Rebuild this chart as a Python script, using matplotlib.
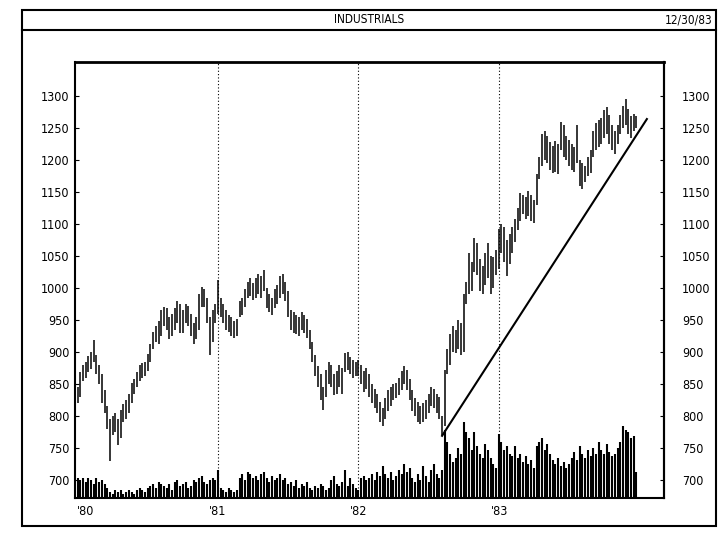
import matplotlib
matplotlib.use('Agg')
import matplotlib.pyplot as plt
import pandas as pd
from matplotlib.patches import Rectangle
from matplotlib.lines import Line2D

# weekly high / low of the Dow industrials
hi_1980 = [845, 868, 880, 885, 893, 900, 918, 895, 880, 865, 840, 815, 795,
           800, 805, 795, 810, 818, 825, 835, 852, 858, 868, 880, 882, 885,
           897, 912, 932, 940, 948, 965, 970, 968, 955, 960, 968, 980, 975,
           965, 975, 972, 960, 945, 955, 990, 1002, 998, 985, 955, 965, 975]
lo_1980 = [820, 830, 855, 860, 868, 873, 885, 865, 850, 820, 805, 780, 730,
           770, 775, 755, 765, 790, 795, 805, 820, 835, 845, 855, 860, 862,
           870, 885, 905, 915, 912, 925, 940, 935, 920, 925, 935, 945, 930,
           930, 945, 940, 925, 912, 920, 935, 970, 970, 945, 895, 915, 945]
hi_1981 = [1013, 985, 975, 965, 958, 955, 948, 952, 980, 985, 998, 1010, 1015,
           1008, 1015, 1022, 1018, 1028, 1000, 990, 985, 998, 1005, 1018, 1022,
           1010, 995, 965, 962, 958, 955, 962, 958, 952, 935, 915, 895, 878,
           865, 845, 872, 885, 880, 865, 870, 880, 875, 898, 900, 892, 888, 885]
lo_1981 = [960, 955, 945, 935, 932, 925, 922, 925, 955, 958, 970, 985, 988,
           982, 985, 990, 985, 995, 968, 962, 958, 968, 975, 985, 990, 980,
           955, 935, 930, 928, 925, 935, 930, 922, 905, 885, 862, 845, 825,
           810, 830, 850, 845, 832, 835, 845, 835, 868, 872, 865, 860, 862]
hi_1982 = [888, 880, 870, 875, 865, 850, 842, 835, 822, 812, 828, 840, 845,
           850, 852, 860, 870, 878, 872, 858, 840, 828, 822, 815, 820, 825,
           835, 845, 842, 835, 830, 800, 872, 905, 928, 940, 935, 950, 945,
           990, 1010, 1055, 1040, 1078, 1070, 1045, 1035, 1055, 1070, 1050,
           1048, 1060]
lo_1982 = [862, 850, 838, 842, 830, 820, 812, 805, 790, 785, 795, 808, 815,
           825, 828, 832, 840, 850, 840, 825, 808, 800, 790, 788, 790, 795,
           805, 815, 812, 805, 795, 770, 785, 865, 880, 900, 898, 905, 895,
           900, 975, 990, 995, 1025, 1020, 995, 990, 1005, 1015, 990, 1000, 1020]
hi_1983 = [1092, 1100, 1095, 1075, 1085, 1095, 1108, 1125, 1148, 1145, 1142,
           1152, 1145, 1138, 1178, 1205, 1240, 1245, 1238, 1228, 1222, 1230,
           1225, 1260, 1255, 1238, 1232, 1225, 1220, 1255, 1200, 1195, 1190,
           1205, 1215, 1245, 1258, 1262, 1265, 1278, 1283, 1270, 1255, 1245,
           1255, 1270, 1285, 1295, 1280, 1268, 1272, 1268]
lo_1983 = [1030, 1055, 1040, 1018, 1038, 1055, 1072, 1090, 1105, 1115, 1108,
           1112, 1105, 1102, 1130, 1170, 1190, 1200, 1195, 1185, 1180, 1182,
           1178, 1215, 1205, 1200, 1190, 1185, 1182, 1195, 1160, 1155, 1165,
           1175, 1180, 1205, 1215, 1220, 1225, 1235, 1240, 1225, 1215, 1210,
           1225, 1240, 1250, 1255, 1240, 1235, 1245, 1250]

# volume (relative units)
vol_1980 = [10, 9, 10, 8, 10, 9, 7, 10, 8, 9, 7, 5, 3, 2, 4, 3, 4, 2, 3, 4, 3,
            2, 4, 5, 4, 3, 5, 6, 7, 5, 8, 7, 6, 5, 7, 4, 8, 9, 6, 7, 8, 5, 6,
            9, 8, 10, 11, 8, 7, 9, 10, 9]
vol_1981 = [14, 5, 4, 3, 5, 4, 3, 4, 10, 12, 9, 13, 12, 10, 11, 9, 12, 13, 10,
            8, 11, 9, 10, 12, 9, 10, 7, 8, 6, 9, 5, 7, 6, 8, 5, 4, 6, 5, 7, 6,
            4, 5, 9, 11, 7, 6, 8, 14, 6, 10, 7, 5]
vol_1982 = [4, 10, 11, 9, 10, 12, 9, 13, 11, 16, 12, 10, 13, 9, 11, 14, 12, 17,
            13, 15, 10, 8, 12, 9, 16, 11, 8, 14, 17, 12, 10, 14, 34, 28, 22,
            18, 20, 25, 22, 38, 33, 30, 24, 33, 26, 22, 20, 27, 24, 20, 17, 15]
vol_1983 = [32, 28, 24, 26, 22, 21, 26, 20, 22, 18, 21, 17, 19, 15, 26, 28, 30,
            24, 27, 22, 19, 17, 20, 16, 18, 15, 17, 20, 23, 19, 26, 22, 20, 24,
            21, 25, 22, 28, 24, 22, 27, 23, 21, 22, 25, 28, 36, 34, 33, 30, 31, 13]

trend_dates = pd.to_datetime(['1982-08-06', '1984-01-19'])
trend_vals = [769, 1264]

year_ticks = pd.to_datetime(['1980-01-01', '1981-01-01', '1982-01-01', '1983-01-01'])
year_labels = ["'80", "'81", "'82", "'83"]
price_ticks = list(range(700, 1301, 50))

highs = hi_1980 + hi_1981 + hi_1982 + hi_1983
lows = lo_1980 + lo_1981 + lo_1982 + lo_1983
volume = vol_1980 + vol_1981 + vol_1982 + vol_1983
weeks = pd.date_range('1980-01-04', periods=len(highs), freq='W-FRI')

plt.rcParams['font.family'] = ['DejaVu Sans']
plt.rcParams['font.stretch'] = 'condensed'

fig = plt.figure(figsize=(7.2, 5.4), dpi=100)
ax = fig.add_axes([0.104, 0.078, 0.818, 0.807])

# volume on its own scale, at the bottom
axv = ax.twinx()
axv.vlines(weeks, 0, volume, color='black', lw=1.5)
axv.set_ylim(0, 218)
axv.axis('off')

ax.vlines(weeks, lows, highs, color='black', lw=1.1)
ax.plot(trend_dates, trend_vals, color='black', lw=1.5)
for d in year_ticks[1:]:
    ax.axvline(d, color='black', ls=(0, (1, 2)), lw=0.8)

ax.set_xlim(pd.Timestamp('1979-12-28'), pd.Timestamp('1984-03-03'))
ax.set_ylim(672, 1353)
ax.set_xticks(year_ticks)
ax.set_xticklabels(year_labels)
ax.get_xticklabels()[0].set_ha('left')
ax.set_yticks(price_ticks)
ax.tick_params(axis='x', length=0, pad=5, labelsize=9)
ax.tick_params(axis='y', direction='in', length=3, pad=4, labelsize=9)

sec = ax.secondary_yaxis('right')
sec.set_yticks(price_ticks)
sec.tick_params(direction='in', length=3, pad=13, labelsize=9)
sec.spines['right'].set_linewidth(1.5)

for s in ax.spines.values():
    s.set_linewidth(1.5)
ax.spines['top'].set_linewidth(2)

# outer frame and header strip
fig.add_artist(Rectangle((0.0306, 0.0259), 0.9638, 0.9556, transform=fig.transFigure,
                         fill=False, lw=1.5, color='black'))
fig.add_artist(Line2D([0.0306, 0.9944], [0.9444, 0.9444], transform=fig.transFigure,
                      lw=1.5, color='black'))
fig.text(0.5125, 0.963, 'INDUSTRIALS', ha='center', va='center', fontsize=8.5)
fig.text(0.989, 0.963, '12/30/83', ha='right', va='center', fontsize=8.5)

fig.savefig('out.png', dpi=100)
